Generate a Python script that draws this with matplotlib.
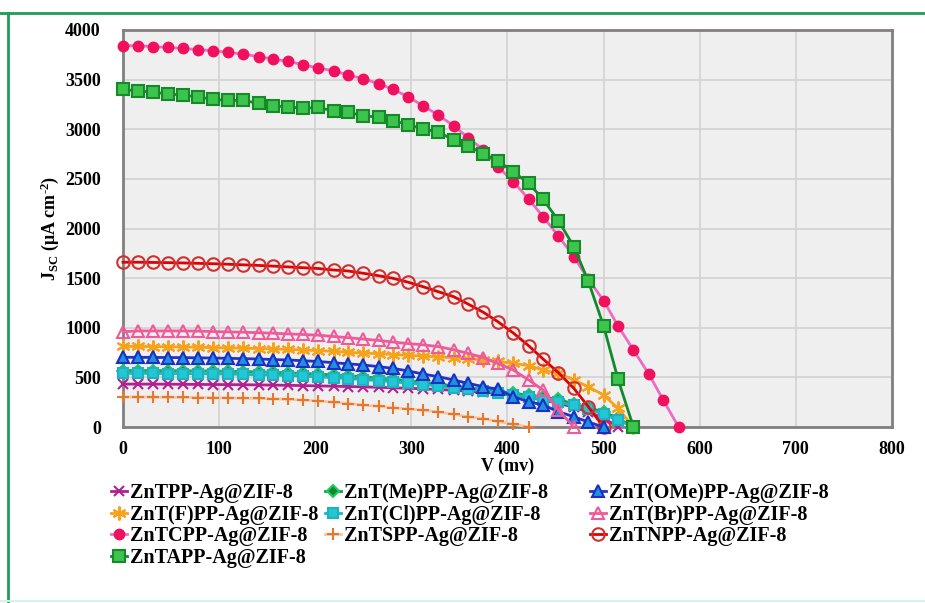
import matplotlib
matplotlib.use("Agg")
import matplotlib.pyplot as plt
from matplotlib.lines import Line2D

plt.rcParams['font.family'] = 'Liberation Serif'
plt.rcParams['font.weight'] = 'bold'
plt.rcParams['mathtext.fontset'] = 'custom'
plt.rcParams['mathtext.rm'] = 'Liberation Serif:bold'
plt.rcParams['mathtext.it'] = 'Liberation Serif:bold'
plt.rcParams['mathtext.bf'] = 'Liberation Serif:bold'

# voltage grid (mV)
v_mv = [0, 16, 31, 47, 62, 78, 94, 109, 125, 141, 156, 172, 187, 203, 219, 234,
        250, 266, 281, 297, 312, 328, 344, 359, 375, 390, 406, 422, 437, 453,
        469, 484, 500, 515, 531, 547, 562, 578]

# current density (uA cm-2) per sample
j_tpp = [432, 432, 432, 431, 430, 429, 428, 427, 426, 424, 422, 420, 417, 414,
         411, 408, 404, 400, 395, 390, 385, 378, 370, 361, 351, 340, 320, 298,
         272, 238, 200, 150, 90, 0]
j_me = [568, 568, 568, 567, 566, 565, 563, 561, 558, 555, 551, 546, 540, 533,
        525, 516, 505, 493, 480, 466, 450, 433, 415, 397, 378, 360, 340, 320,
        299, 280, 230, 196, 150, 88, 0]
j_ome = [702, 702, 701, 700, 699, 697, 695, 692, 689, 685, 680, 675, 668, 660,
         648, 636, 625, 608, 591, 564, 534, 507, 474, 440, 406, 380, 305, 255,
         222, 154, 104, 50, 0]
j_f = [812, 812, 810, 808, 806, 804, 800, 797, 794, 790, 786, 782, 776, 770,
       762, 752, 745, 738, 730, 722, 714, 706, 698, 690, 675, 660, 642, 618,
       574, 541, 474, 406, 322, 188, 0]
j_cl = [540, 540, 540, 539, 538, 537, 535, 533, 530, 527, 523, 518, 512, 505,
        497, 488, 478, 467, 455, 442, 428, 413, 397, 380, 362, 343, 322, 300,
        277, 250, 218, 180, 130, 70, 0]
j_br = [960, 968, 968, 968, 968, 966, 962, 958, 955, 950, 945, 938, 932, 925,
        912, 900, 886, 872, 856, 840, 828, 810, 778, 742, 700, 640, 574, 474,
        373, 171, 0]
j_tcpp = [3842, 3842, 3832, 3825, 3815, 3802, 3792, 3775, 3758, 3731, 3708,
          3684, 3651, 3617, 3590, 3547, 3509, 3459, 3402, 3325, 3237, 3144,
          3034, 2915, 2791, 2623, 2472, 2297, 2119, 1924, 1716, 1490, 1273,
          1018, 776, 534, 272, 0]
j_spp = [302, 302, 301, 300, 299, 297, 295, 293, 291, 288, 284, 279, 272, 262,
         250, 236, 222, 208, 194, 182, 169, 152, 128, 104, 85, 56, 28, 0]
j_tnpp = [1660, 1660, 1658, 1656, 1653, 1649, 1645, 1640, 1634, 1628, 1621,
          1613, 1605, 1597, 1582, 1572, 1549, 1524, 1498, 1458, 1414, 1363,
          1313, 1239, 1155, 1061, 947, 819, 685, 547, 390, 205, 0]
j_tapp = [3402, 3385, 3375, 3355, 3345, 3325, 3301, 3291, 3291, 3261, 3234,
          3227, 3210, 3221, 3184, 3171, 3137, 3120, 3086, 3046, 3003, 2972,
          2892, 2831, 2753, 2680, 2573, 2455, 2295, 2079, 1817, 1471, 1018,
          480, 0]

labels = ['ZnTPP-Ag@ZIF-8', 'ZnT(Me)PP-Ag@ZIF-8', 'ZnT(OMe)PP-Ag@ZIF-8',
          'ZnT(F)PP-Ag@ZIF-8', 'ZnT(Cl)PP-Ag@ZIF-8', 'ZnT(Br)PP-Ag@ZIF-8',
          'ZnTCPP-Ag@ZIF-8', 'ZnTSPP-Ag@ZIF-8', 'ZnTNPP-Ag@ZIF-8',
          'ZnTAPP-Ag@ZIF-8']
data = [j_tpp, j_me, j_ome, j_f, j_cl, j_br, j_tcpp, j_spp, j_tnpp, j_tapp]

# line color, marker, marker face, marker edge, marker size
styles = [
    ('#b0208f', 'x', '#b0208f', '#b0208f', 7),
    ('#12a040', 'D', '#0c8a2c', '#22c864', 6.5),
    ('#2233cc', '^', '#1f8fe0', '#1b2fc0', 8.5),
    ('#f7a21b', (6, 2, 0), '#f7a21b', '#f7a21b', 10),
    ('#1ab8c4', 's', '#20c8d4', '#20b0c0', 7.5),
    ('#ee5a9a', '^', 'none', '#ee5a9a', 9),
    ('#ec6cc4', 'o', '#f0105e', '#f0105e', 7),
    ('#f8c4a0', '+', '#e9772b', '#e9772b', 8),
    ('#e00000', 'o', 'none', '#d03030', 9),
    ('#128a2c', 's', '#3cc44c', '#168a28', 9),
]
zorders = [3, 4, 6, 4, 5, 6, 3, 4, 5, 7]

fig = plt.figure(figsize=(9.25, 6.03), dpi=100)
ax = fig.add_axes([123 / 925, 1 - 427 / 603, (892 - 123) / 925, (427 - 30) / 603])
ax.set_facecolor('#efefef')

handles = []
for lab, j, (lc, mk, mfc, mec, ms), z in zip(labels, data, styles, zorders):
    h, = ax.plot(v_mv[:len(j)], j, color=lc, lw=2, marker=mk, ms=ms,
                 mfc=mfc, mec=mec, mew=1.5, label=lab, zorder=z, clip_on=False)
    handles.append(h)

ax.set_xlim(0, 800)
ax.set_ylim(0, 4000)
ax.set_xticks(range(0, 801, 100))
ax.set_yticks(range(0, 4001, 500))
ax.grid(color='#d2d2d2', lw=1.2)
ax.set_axisbelow(True)
ax.tick_params(length=0, labelsize=13)
ax.tick_params(axis='y', pad=16)
ax.tick_params(axis='x', pad=10)
for s in ax.spines.values():
    s.set_color('#808080')
    s.set_linewidth(2)

ax.set_xlabel('V (mv)', fontsize=13, fontweight='bold', labelpad=0)
ax.set_ylabel(r'J$_{\rm SC}$ (μA cm$^{\text{-2}}$)', fontsize=13,
              fontweight='bold', labelpad=3)

# legend laid out row by row in the original: one legend per column
columns = [[0, 3, 6, 9], [1, 4, 7], [2, 5, 8]]
col_left = [111, 325, 590]
for idx, left in zip(columns, col_left):
    fig.legend([handles[i] for i in idx], [labels[i] for i in idx],
               loc='upper left', bbox_to_anchor=(left / 925, 1 - 483 / 603),
               frameon=False, fontsize=14.5, handlelength=0.8,
               handletextpad=0.15, labelspacing=0.08, borderaxespad=0,
               borderpad=0)

# green frame of the original figure
fig.add_artist(Line2D([0, 1], [1 - 13 / 603] * 2, color='#1f9d55', lw=2,
                      transform=fig.transFigure))
fig.add_artist(Line2D([8 / 925] * 2, [0, 1 - 13 / 603], color='#1f9d55', lw=2,
                      transform=fig.transFigure))
fig.add_artist(Line2D([0, 1], [2 / 603] * 2, color='#d6f2f0', lw=1.5,
                      transform=fig.transFigure))

fig.savefig('out.png', dpi=100)
